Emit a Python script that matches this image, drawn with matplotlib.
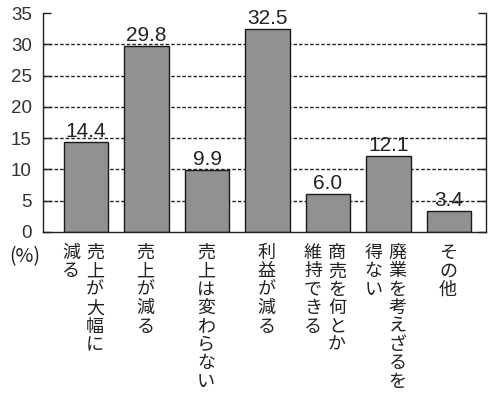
import numpy as np
import matplotlib
matplotlib.use('Agg')
import matplotlib.pyplot as plt

# data
labels = [
    ['売上が大幅に', '減る'],
    ['売上が減る'],
    ['売上は変わらない'],
    ['利益が減る'],
    ['商売を何とか', '維持できる'],
    ['廃業を考えざるを', '得ない'],
    ['その他'],
]
values = [14.4, 29.8, 9.9, 32.5, 6.0, 12.1, 3.4]
yticks = [0, 5, 10, 15, 20, 25, 30, 35]

num_font = 'Liberation Sans'
jp_font = ['Noto Sans CJK JP', 'DejaVu Sans']


def main():
    fig = plt.figure(figsize=(4.91, 3.95), dpi=100)
    ax = fig.add_axes([43 / 491, 1 - 232 / 395, 443 / 491, 219 / 395])

    x = np.arange(len(values))
    ax.bar(x, values, width=0.73, color='#919191', edgecolor='#1a1a1a',
           linewidth=1.0, zorder=2)

    # value labels above each bar
    for i, v in enumerate(values):
        ax.annotate('{:.1f}'.format(v), (i, v), xytext=(0, 1),
                    textcoords='offset pixels', ha='center', va='bottom',
                    fontsize=15, family=num_font, color='#222222')

    # dashed grid (no line at the top value)
    for y in yticks[1:-1]:
        ax.axhline(y, color='#222222', linestyle=(0, (2.5, 1.5)),
                   linewidth=1.0, zorder=1)

    ax.set_xlim(-0.71, 6.61)
    ax.set_ylim(0, 35)
    ax.set_yticks(yticks)
    ax.set_yticklabels([str(t) for t in yticks], family=num_font, fontsize=13.5,
                       color='#333333')
    ax.set_xticks([])
    ax.tick_params(axis='y', direction='in', length=6, width=1, pad=8,
                   left=True, right=True, colors='#222222',
                   labelcolor='#333333')
    ax.spines['top'].set_visible(False)
    for s in ['left', 'right', 'bottom']:
        ax.spines[s].set_color('#222222')
        ax.spines[s].set_linewidth(1.0)

    # vertical Japanese category labels, first column on the right
    pitch = 18.4
    for i, cols in enumerate(labels):
        if len(cols) == 1:
            offs = [-1]
        else:
            offs = [9, -15]
        for col, dx in zip(cols, offs):
            for k, ch in enumerate(col):
                ax.annotate(ch, (i, 0), xytext=(dx, -21 - k * pitch),
                            textcoords='offset pixels', ha='center',
                            va='center', fontsize=13, family=jp_font,
                            color='#222222', annotation_clip=False)

    ax.annotate('(%)', (-0.71, 0), xytext=(-18, -25),
                textcoords='offset pixels', ha='center', va='center',
                fontsize=14, family=jp_font, color='#222222',
                annotation_clip=False)

    fig.savefig('out.png', dpi=100, facecolor='white')
    plt.close()


if __name__ == '__main__':
    main()
